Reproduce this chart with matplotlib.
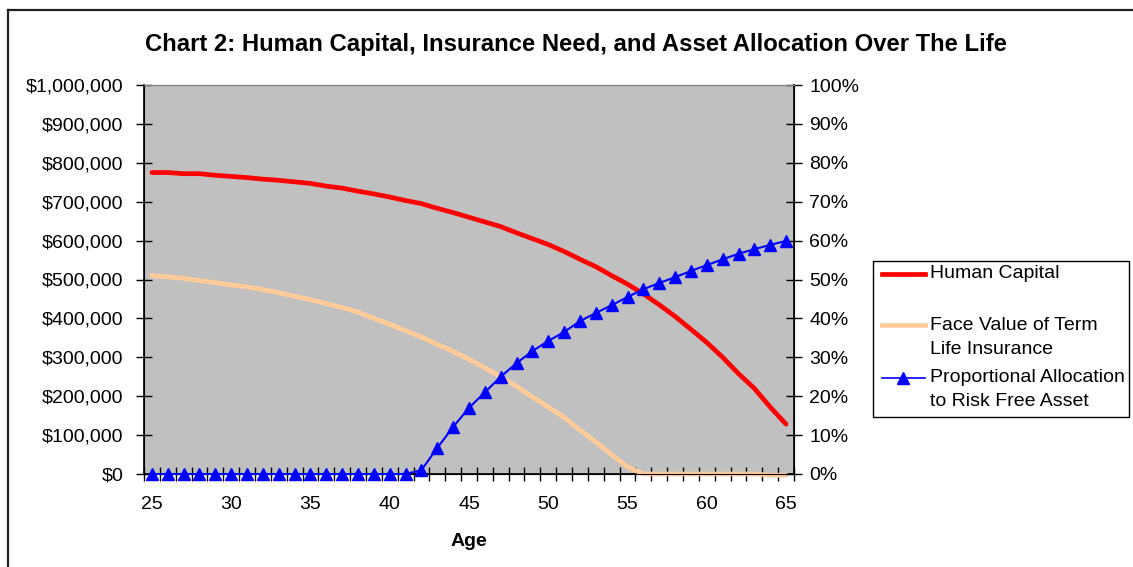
import matplotlib
matplotlib.use("Agg")
import matplotlib.pyplot as plt
from matplotlib.lines import Line2D
from matplotlib.patches import Rectangle
from matplotlib.ticker import FuncFormatter, FixedLocator

plt.rcParams['font.family'] = ['Liberation Sans', 'DejaVu Sans']

ages = list(range(25, 66))
human_capital = [775, 775, 772, 772, 768, 765, 762, 758, 755, 751,
                 747, 740, 735, 727, 720, 712, 703, 695, 683, 672,
                 660, 648, 636, 620, 605, 590, 572, 552, 533, 510,
                 488, 463, 435, 405, 372, 338, 300, 258, 220, 172, 128]
face_value = [510, 507, 503, 497, 492, 486, 481, 474, 466, 457,
              448, 438, 428, 416, 400, 385, 368, 352, 333, 315,
              295, 273, 250, 225, 198, 172, 145, 113, 82, 50,
              18, 0, 0, 0, 0, 0, 0, 0, 0, -3, -3]
risk_free = [0, 0, 0, 0, 0, 0, 0, 0, 0, 0,
             0, 0, 0, 0, 0, 0, 0, 1.0, 6.7, 12.1,
             17.0, 21.0, 25.0, 28.5, 31.6, 34.2, 36.5, 39.3, 41.4, 43.4,
             45.5, 47.5, 49.1, 50.6, 52.2, 53.7, 55.2, 56.6, 57.8, 58.9, 59.9]
left_ticks = [0, 100000, 200000, 300000, 400000, 500000, 600000, 700000, 800000, 900000, 1000000]
right_ticks = [0, 10, 20, 30, 40, 50, 60, 70, 80, 90, 100]
age_labels = [25, 30, 35, 40, 45, 50, 55, 60, 65]

title = "Chart 2: Human Capital, Insurance Need, and Asset Allocation Over The Life"
labels = [["Human Capital"], ["Face Value of Term", "Life Insurance"],
          ["Proportional Allocation", "to Risk Free Asset"]]

RED = "#FF0000"
ORANGE = "#FFCC99"
BLUE = "#0000FF"

W, H = 1133, 567
fig = plt.figure(figsize=(W / 100, H / 100), dpi=100)

ax = fig.add_axes([144 / W, 1 - 474 / H, 650 / W, 389 / H])
ax.set_facecolor("#C0C0C0")
pos = list(range(len(ages)))
hc = [v * 1000 for v in human_capital]
fv = [v * 1000 for v in face_value]
ax.plot(pos, fv, color=ORANGE, lw=3.4, solid_capstyle='round', clip_on=False, zorder=3)
ax.plot(pos, hc, color=RED, lw=3.4, solid_capstyle='round', clip_on=False, zorder=4)
ax.set_xlim(-0.5, len(ages) - 0.5)
ax.set_ylim(0, 1000000)

ax.yaxis.set_major_locator(FixedLocator(left_ticks))
ax.yaxis.set_major_formatter(FuncFormatter(lambda v, p: "${:,.0f}".format(v)))
ax.tick_params(axis='y', direction='inout', length=12, width=1, labelsize=14, pad=9)

# category boundaries as major ticks, labels at minor positions
ax.xaxis.set_major_locator(FixedLocator([i - 0.5 for i in range(len(ages) + 1)]))
ax.xaxis.set_major_formatter(FuncFormatter(lambda v, p: ""))
ax.xaxis.set_minor_locator(FixedLocator([ages.index(a) for a in age_labels]))
ax.xaxis.set_minor_formatter(FuncFormatter(lambda v, p: str(ages[int(round(v))])))
ax.tick_params(axis='x', which='major', direction='inout', length=10, width=1)
ax.tick_params(axis='x', which='minor', length=0, labelsize=14, pad=15.5)
ax.set_xlabel("Age", fontsize=14, fontweight='bold', labelpad=15)

for s in ['left', 'bottom']:
    ax.spines[s].set_color('black')
    ax.spines[s].set_linewidth(1.2)
ax.spines['top'].set_color('#808080')
ax.spines['right'].set_color('black')

ax2 = ax.twinx()
ax2.plot(pos, risk_free, color=BLUE, lw=1.5, marker='^', markersize=9,
         markerfacecolor=BLUE, markeredgecolor=BLUE, clip_on=False, zorder=5)
ax2.set_ylim(0, 100)
ax2.yaxis.set_major_locator(FixedLocator(right_ticks))
ax2.yaxis.set_major_formatter(FuncFormatter(lambda v, p: "{:.0f}%".format(v)))
ax2.tick_params(axis='y', direction='inout', length=12, width=1, labelsize=14, pad=5)
ax2.spines['right'].set_color('black')
ax2.spines['right'].set_linewidth(1.2)
ax2.spines['top'].set_color('#808080')

fig.text(576 / W, 1 - 44 / H, title, ha='center', va='center', fontsize=17.2, fontweight='bold')

# legend
leg_box = Rectangle((873 / W, 1 - 417 / H), (1129 - 873) / W, (417 - 261) / H,
                    transform=fig.transFigure, facecolor='white', edgecolor='black', lw=1)
fig.patches.append(leg_box)
handles_y = [274, 325, 378]
styles = [dict(color=RED, lw=3.4), dict(color=ORANGE, lw=3.4),
          dict(color=BLUE, lw=1.2)]
for yy, st in zip(handles_y, styles):
    fig.lines.append(Line2D([882 / W, 925 / W], [1 - yy / H, 1 - yy / H],
                            transform=fig.transFigure, **st))
fig.lines.append(Line2D([903 / W], [1 - 378 / H], transform=fig.transFigure,
                        marker='^', markersize=8, color=BLUE, lw=0))
for yy, lines in zip(handles_y, labels):
    for k, line in enumerate(lines):
        fig.text(930 / W, 1 - (yy + 24 * k) / H, line, ha='left', va='center', fontsize=14)

# outer chart border
fig.lines.append(Line2D([8 / W, 1.0], [1 - 9.5 / H, 1 - 9.5 / H], transform=fig.transFigure,
                        color='#222222', lw=1.6))
fig.lines.append(Line2D([8 / W, 8 / W], [0, 1 - 9.5 / H], transform=fig.transFigure,
                        color='#222222', lw=1.6))

fig.savefig("out.png", dpi=100)
